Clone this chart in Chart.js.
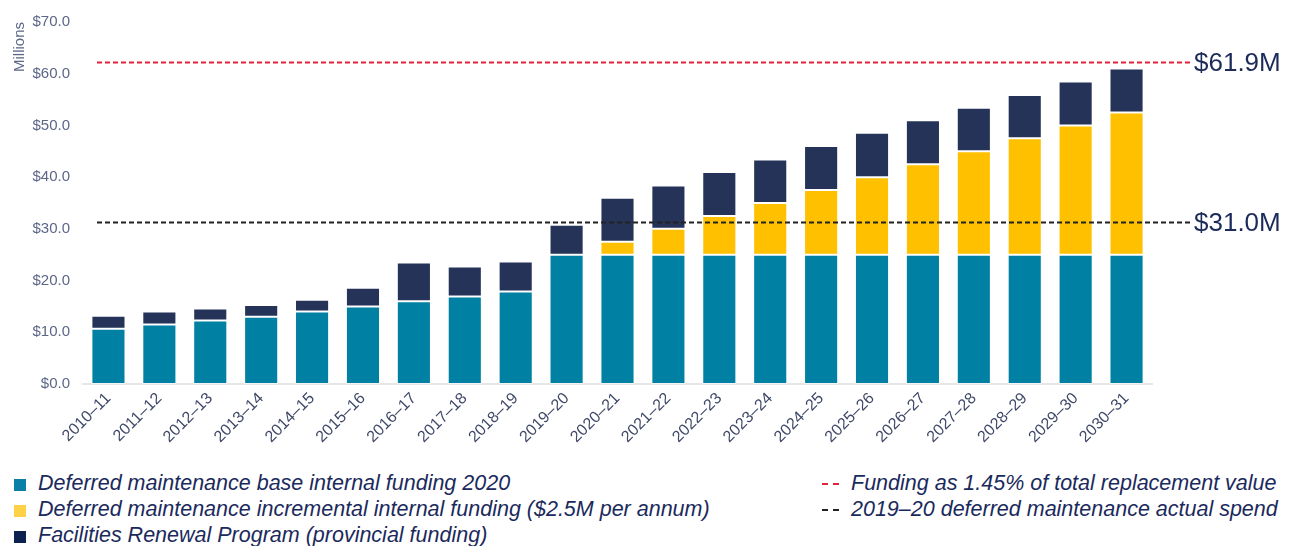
<!DOCTYPE html>
<html>
<head>
<meta charset="utf-8">
<script src="https://cdn.jsdelivr.net/npm/chart.js@4.4.0/dist/chart.umd.min.js"></script>
<style>
  body { margin: 0; background: #fff; font-family: "Liberation Sans", Arial, sans-serif; }
  .wrap { position: relative; width: 1293px; height: 546px; overflow: hidden; }
  .chart-box { position: absolute; left: 0; top: 0; width: 1293px; height: 455px; }
  .legend { position: absolute; color: #1b2a5c; font-style: italic; font-size: 21.5px; }
  .legend div { height: 26px; line-height: 26px; white-space: nowrap; }
  .sq { display: inline-block; width: 12px; height: 12px; margin-right: 12px; vertical-align: -1px; }
  .dash { display: inline-block; width: 17px; margin-right: 12px; vertical-align: 5px; border-top: 2px dashed; }
</style>
</head>
<body>
<div class="wrap">
  <div class="chart-box"><canvas id="fundChart"></canvas></div>
  <div class="legend" style="left:14px; top:470px;" id="legLeft"></div>
  <div class="legend" style="left:822px; top:470px;" id="legRight"></div>
</div>
<script>
// categories
var years = ['2010–11', '2011–12', '2012–13', '2013–14', '2014–15', '2015–16', '2016–17', '2017–18', '2018–19', '2019–20',
  '2020–21', '2021–22', '2022–23', '2023–24', '2024–25', '2025–26', '2026–27', '2027–28', '2028–29', '2029–30', '2030–31'];

// series values ($ millions)
var baseFunding = [10.7, 11.5, 12.3, 13.0, 14.0, 15.0, 16.0, 16.9, 17.9, 25.0,
  25.0, 25.0, 25.0, 25.0, 25.0, 25.0, 25.0, 25.0, 25.0, 25.0, 25.0];
var incrementalFunding = [0, 0, 0, 0, 0, 0, 0, 0, 0, 0,
  2.5, 5.0, 7.5, 10.0, 12.5, 15.0, 17.5, 20.0, 22.5, 25.0, 27.5];
var renewalFunding = [2.5, 2.5, 2.3, 2.3, 2.3, 3.6, 7.5, 5.8, 5.8, 5.8,
  8.5, 8.4, 8.5, 8.4, 8.5, 8.6, 8.5, 8.4, 8.4, 8.5, 8.5];

// reference lines (position as drawn in the picture, label as printed)
var refValues = [62.2, 31.3];
var refLabels = ['$61.9M', '$31.0M'];
var refColors = ['#e3233b', '#222222'];

var seriesNames = ['Deferred maintenance base internal funding 2020',
  'Deferred maintenance incremental internal funding ($2.5M per annum)',
  'Facilities Renewal Program (provincial funding)'];
var seriesColors = ['#0080a3', '#ffc000', '#253358'];
var legendSquareColors = ['#0b7fa6', '#ffd147', '#0d2150'];
var refNames = ['Funding as 1.45% of total replacement value', '2019–20 deferred maintenance actual spend'];

// y ticks
var yMin = 0, yMax = 70, yStep = 10;

// legend (html)
var legLeft = document.getElementById('legLeft');
seriesNames.forEach(function (name, i) {
  var row = document.createElement('div');
  row.innerHTML = '<span class="sq" style="background:' + legendSquareColors[i] + '"></span>' + name;
  legLeft.appendChild(row);
});
var legRight = document.getElementById('legRight');
refNames.forEach(function (name, i) {
  var row = document.createElement('div');
  row.innerHTML = '<span class="dash" style="border-color:' + refColors[i] + '"></span>' + name;
  legRight.appendChild(row);
});

// dashed reference lines drawn past the plot area
var refLinePlugin = {
  id: 'refLines',
  afterDatasetsDraw: function (chart) {
    var ctx = chart.ctx;
    var area = chart.chartArea;
    var y = chart.scales.y;
    refValues.forEach(function (v, i) {
      var py = Math.round(y.getPixelForValue(v)) + 0.5;
      ctx.save();
      ctx.strokeStyle = refColors[i];
      ctx.lineWidth = 2;
      ctx.setLineDash([5, 3]);
      ctx.beginPath();
      ctx.moveTo(area.left + 14, py);
      ctx.lineTo(area.right + 41, py);
      ctx.stroke();
      ctx.setLineDash([]);
      ctx.fillStyle = '#1c2b5a';
      ctx.font = '26px "Liberation Sans", Arial, sans-serif';
      ctx.textBaseline = 'middle';
      ctx.textAlign = 'left';
      ctx.fillText(refLabels[i], area.right + 42, py + 1);
      ctx.restore();
    });
  }
};

var barStyle = { borderColor: 'rgba(255,255,255,0.55)', borderWidth: 1, borderSkipped: false,
  categoryPercentage: 1.0, barPercentage: 0.67 };

var config = {
  type: 'bar',
  data: {
    labels: years,
    datasets: [
      Object.assign({ label: seriesNames[0], data: baseFunding, backgroundColor: seriesColors[0] }, barStyle),
      Object.assign({ label: seriesNames[1], data: incrementalFunding, backgroundColor: seriesColors[1] }, barStyle),
      Object.assign({ label: seriesNames[2], data: renewalFunding, backgroundColor: seriesColors[2] }, barStyle)
    ]
  },
  options: {
    responsive: true,
    maintainAspectRatio: false,
    animation: false,
    layout: { padding: { top: 19, right: 141, left: 0, bottom: 0 } },
    plugins: {
      legend: { display: false },
      tooltip: { enabled: false }
    },
    scales: {
      x: {
        stacked: true,
        grid: { display: false, drawTicks: false },
        border: { display: true, color: '#e6e6e6', width: 2 },
        ticks: {
          color: '#3f4868',
          font: { family: '"Liberation Sans", Arial, sans-serif', size: 16 },
          minRotation: 45,
          maxRotation: 45,
          padding: 5,
          autoSkip: false
        },
        afterFit: function (scale) { scale.height = 71; }
      },
      y: {
        stacked: true,
        min: yMin,
        max: yMax,
        grid: { display: false, drawTicks: false },
        border: { display: false },
        ticks: {
          stepSize: yStep,
          color: '#5c6687',
          padding: 13,
          font: { family: '"Liberation Sans", Arial, sans-serif', size: 15 },
          callback: function (v) { return '$' + v.toFixed(1); }
        },
        title: {
          display: true,
          text: 'Millions',
          align: 'end',
          color: '#5c6687',
          padding: { top: 11, bottom: 0 },
          font: { family: '"Liberation Sans", Arial, sans-serif', size: 15 }
        },
        afterFit: function (scale) { scale.width = 83; }
      }
    }
  },
  plugins: [refLinePlugin]
};

// Create the chart
var fundChart = new Chart(document.getElementById('fundChart'), config);
</script>
</body>
</html>
